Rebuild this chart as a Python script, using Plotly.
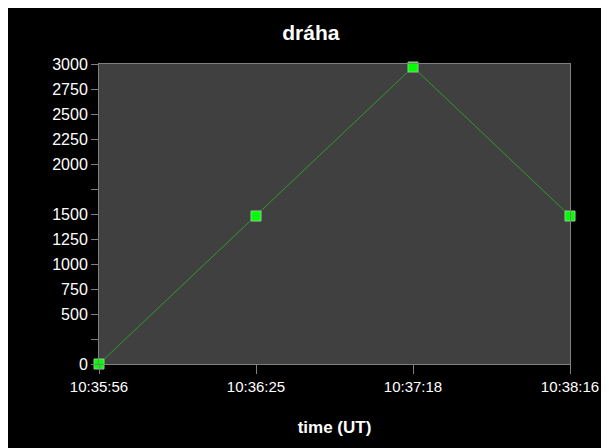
import plotly.graph_objects as go

times = ["10:35:56", "10:36:25", "10:37:18", "10:38:16"]
distance = [0, 1480, 2970, 1480]

y_tick_vals = [0, 250, 500, 750, 1000, 1250, 1500, 1750, 2000, 2250, 2500, 2750, 3000]
y_tick_text = ["0", "", "500", "750", "1000", "1250", "1500", "", "2000", "2250", "2500", "2750", "3000"]

title_text = "dráha"
x_title = "time (UT)"

FONT = "Liberation Sans Narrow, Arial Narrow, Liberation Sans, Arial, sans-serif"

fig = go.Figure()
fig.add_trace(go.Scatter(
    x=times, y=distance, mode="lines+markers",
    line=dict(color="#2f9a2f", width=1),
    marker=dict(symbol="square", size=10, color="#00ff00",
                line=dict(color="#8fcf8f", width=1)),
    cliponaxis=False, showlegend=False,
))

axis_common = dict(
    showgrid=False, zeroline=False, showline=True, mirror=True,
    linecolor="#808080", linewidth=1, ticks="outside", tickcolor="#808080",
    automargin=False, ticklabeloverflow="allow",
)

fig.update_layout(
    width=601, height=440,
    margin=dict(l=91, r=39, t=56, b=84),
    paper_bgcolor="black", plot_bgcolor="#404040",
    title=dict(text=f"<b>{title_text}</b>", x=0.504, xref="container",
               y=1 - 25 / 440, yref="container", yanchor="middle", xanchor="center",
               font=dict(family=FONT, size=21, color="white")),
    xaxis=dict(type="category", range=[0, 3], ticklen=9,
               tickfont=dict(family=FONT, size=15, color="white"),
               title=dict(text=f"<b>{x_title}</b>", standoff=27,
                          font=dict(family=FONT, size=17, color="white")),
               **axis_common),
    yaxis=dict(range=[0, 3000], tickmode="array", tickvals=y_tick_vals,
               ticktext=y_tick_text, ticklen=7,
               tickfont=dict(family=FONT, size=16, color="white"),
               **axis_common),
)

fig.write_html("out.html",
               post_script="document.documentElement.style.overflow='hidden';document.body.style.overflow='hidden';")
